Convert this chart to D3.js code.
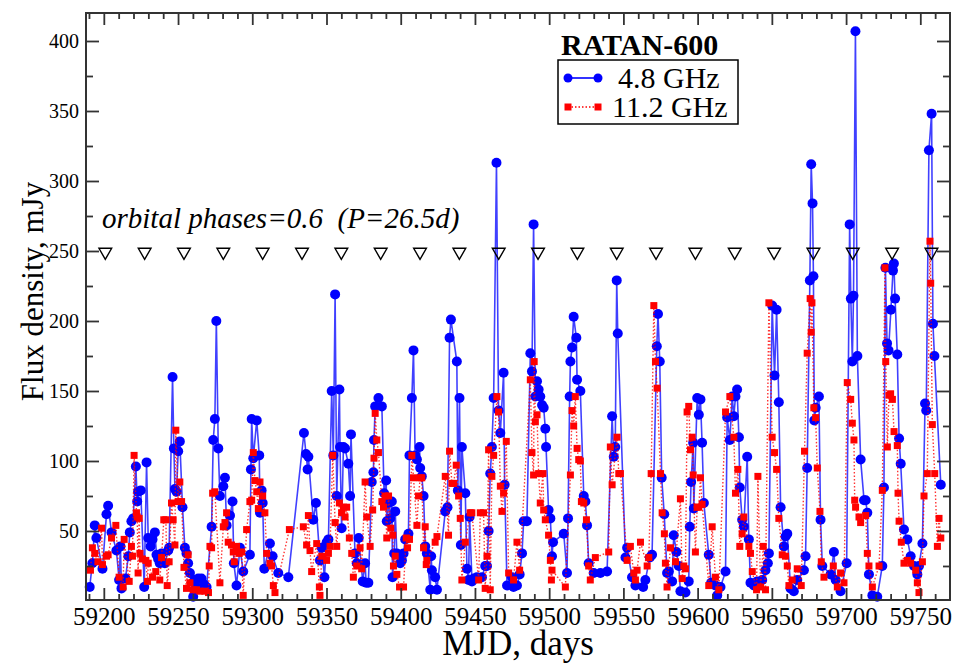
<!DOCTYPE html>
<html>
<head>
<meta charset="utf-8">
<script src="https://cdn.jsdelivr.net/npm/d3@7"></script>
<style>
body { margin: 0; background: #fff; }
svg text { font-family: "Liberation Serif", "Times New Roman", serif; fill: #000; }
</style>
</head>
<body>
<svg id="chart" width="961" height="663"></svg>
<script>
// 4.8 GHz flux, [MJD, mJy]
var band48 = [
  [59190.5,10],[59192.3,27],[59193.9,54],[59195.0,45],[59199.1,23],[59201.8,62],[59202.9,68],[59205.2,49],
  [59208.5,36],[59210.3,15],[59211.2,39],[59211.9,9],[59214.6,16],[59216.5,32],[59217.5,49],[59218.6,57],
  [59219.8,59],[59221.6,96],[59222.5,71],[59223.1,78],[59224.9,79],[59227.2,10],[59228.8,99],[59229.9,45],
  [59231.5,39],[59232.8,44],[59234.4,49],[59235.5,33],[59236.6,30],[59237.7,27],[59238.9,34],[59241.1,27],
  [59243.4,36],[59244.0,38],[59246.3,160],[59247.2,109],[59247.9,80],[59249.0,78],[59250.1,107],[59251.2,114],
  [59253.0,67],[59254.6,38],[59255.7,34],[59256.8,27],[59258.0,20],[59260.2,3],[59261.3,15],[59262.4,10],
  [59263.6,16],[59265.8,16],[59267.5,12],[59269.2,10],[59272.6,53],[59273.7,115],[59274.8,130],[59275.8,200],
  [59277.1,109],[59278.2,75],[59280.5,82],[59281.6,88],[59282.7,54],[59285.0,61],[59286.7,71],[59287.6,27],
  [59289.4,11],[59291.7,38],[59293.9,21],[59298.4,33],[59299.1,94],[59299.6,130],[59300.7,102],[59303.0,129],
  [59304.7,104],[59305.2,63],[59306.3,79],[59307.0,70],[59308.1,23],[59311.9,41],[59313.7,32],[59317.5,20],
  [59324.3,17],[59334.8,120],[59336.2,105],[59337.3,94],[59337.8,103],[59341.1,58],[59342.9,70],[59345.6,29],
  [59346.8,38],[59348.6,17],[59350.1,42],[59351.3,44],[59353.5,150],[59354.6,104],[59355.8,219],[59356.9,75],
  [59358.7,151],[59359.1,110],[59360.2,52],[59361.4,110],[59362.5,109],[59364.7,98],[59365.9,75],[59366.5,119],
  [59369.2,34],[59370.4,27],[59371.7,45],[59374.4,14],[59376.0,27],[59376.7,13],[59378.2,13],[59380.5,85],
  [59381.6,92],[59382.0,115],[59382.8,139],[59385.0,145],[59387.3,139],[59388.8,77],[59390.2,86],[59390.6,57],
  [59391.8,70],[59392.9,59],[59394.0,71],[59394.5,17],[59395.6,34],[59396.3,64],[59397.4,34],[59399.6,27],
  [59400.8,29],[59401.9,34],[59403.0,44],[59405.2,48],[59405.9,104],[59407.5,145],[59408.6,179],[59409.7,104],
  [59410.9,101],[59412.7,110],[59413.1,95],[59414.2,89],[59415.4,75],[59416.5,39],[59417.6,34],[59419.9,8],
  [59420.5,32],[59421.0,22],[59423.2,17],[59424.4,8],[59430.0,64],[59431.5,67],[59432.9,188],[59433.8,201],
  [59437.8,171],[59438.5,79],[59439.6,145],[59440.5,40],[59441.2,110],[59443.5,77],[59444.6,23],[59445.7,15],
  [59446.4,60],[59448.0,14],[59449.1,16],[59451.3,17],[59454.7,17],[59456.9,25],[59458.1,25],[59459.2,50],
  [59460.3,91],[59461.4,110],[59462.6,145],[59464.5,313],[59465.9,136],[59467.1,120],[59469.3,163],[59470.0,83],
  [59471.6,11],[59474.9,17],[59476.0,10],[59478.3,11],[59480.1,19],[59481.7,34],[59482.8,57],[59485.0,57],
  [59487.3,177],[59488.4,164],[59489.5,269],[59490.7,146],[59491.8,157],[59492.9,151],[59494.0,146],[59495.2,140],
  [59496.3,138],[59497.4,123],[59497.9,110],[59499.6,65],[59500.8,59],[59501.9,32],[59502.6,42],[59509.8,48],
  [59512.0,20],[59512.7,59],[59513.8,146],[59514.3,171],[59515.4,181],[59516.5,203],[59518.3,188],[59518.8,158],
  [59521.0,150],[59523.3,75],[59524.4,71],[59525.5,54],[59526.6,27],[59530.0,20],[59534.5,20],[59539.0,21],
  [59542.4,132],[59543.5,103],[59544.5,110],[59545.5,229],[59546.2,191],[59551.4,31],[59552.5,38],[59555.8,17],
  [59558.1,11],[59563.3,10],[59564.8,15],[59567.8,31],[59569.3,33],[59572.5,182],[59573.3,205],[59574.5,171],
  [59575.8,88],[59577.5,62],[59579.4,20],[59580.6,21],[59582.8,14],[59583.9,47],[59585.7,35],[59587.3,25],
  [59588.4,7],[59591.8,6],[59594.0,14],[59594.7,53],[59595.6,85],[59597.0,113],[59597.4,66],[59599.7,145],
  [59600.8,133],[59601.9,144],[59603.0,113],[59604.2,70],[59607.5,33],[59609.1,13],[59612.0,11],[59613.2,4],
  [59615.4,10],[59618.8,21],[59619.9,131],[59621.7,115],[59623.3,146],[59624.4,132],[59625.5,146],[59626.6,151],
  [59627.8,117],[59628.4,81],[59630.0,58],[59631.1,53],[59633.4,103],[59634.5,44],[59635.6,13],[59637.9,11],
  [59640.1,14],[59643.5,15],[59645.7,22],[59647.3,27],[59648.0,34],[59650.2,211],[59651.8,161],[59653.2,208],
  [59654.7,142],[59655.9,67],[59658.1,39],[59659.2,46],[59660.4,48],[59662.6,9],[59664.8,7],[59667.1,15],
  [59671.6,22],[59672.7,32],[59673.8,95],[59675.6,229],[59676.5,312],[59677.4,284],[59678.0,232],[59678.6,129],
  [59679.5,138],[59681.7,146],[59682.8,58],[59684.0,25],[59689.6,19],[59691.8,35],[59693.0,15],[59696.3,7],
  [59700.4,27],[59702.4,269],[59703.2,216],[59704.2,171],[59705.0,218],[59706.3,407],[59707.6,175],[59709.8,101],
  [59712.1,72],[59713.2,72],[59714.3,63],[59715.4,19],[59717.7,4],[59721.0,3],[59724.4,25],[59725.5,81],
  [59726.5,238],[59727.6,184],[59728.6,179],[59730.2,208],[59731.6,236],[59732.2,241],[59733.0,216],[59734.5,176],
  [59735.7,116],[59736.8,98],[59739.0,51],[59741.3,44],[59743.5,32],[59745.8,25],[59748.0,19],[59749.1,25],
  [59751.4,41],[59753.2,141],[59754.0,136],[59755.8,322],[59757.6,348],[59758.5,198],[59759.5,175],[59763.8,83]
];

// 11.2 GHz flux, [MJD, mJy]
var band112 = [
  [59191.0,22],[59192.3,38],[59193.9,34],[59196.0,28],[59198.5,52],[59199.1,26],[59201.8,32],[59202.9,33],
  [59205.2,45],[59208.1,54],[59210.3,17],[59213.0,10],[59213.7,44],[59217.1,14],[59218.6,39],[59219.3,32],
  [59220.4,104],[59222.0,63],[59222.5,60],[59223.1,20],[59223.8,59],[59224.3,34],[59226.0,30],[59228.3,29],
  [59229.4,14],[59229.9,27],[59232.8,17],[59235.0,21],[59237.7,15],[59238.9,31],[59240.4,58],[59241.8,58],
  [59242.7,11],[59244.0,28],[59245.6,70],[59246.7,58],[59247.9,40],[59248.5,122],[59250.1,71],[59251.2,85],
  [59252.4,71],[59254.0,24],[59255.7,9],[59256.8,33],[59258.0,13],[59260.2,8],[59262.5,8],[59264.7,7],
  [59268.1,7],[59270.5,6],[59271.0,25],[59271.5,39],[59272.6,38],[59273.3,77],[59274.8,78],[59278.2,13],
  [59280.5,53],[59281.6,56],[59282.7,63],[59283.8,42],[59286.0,40],[59287.2,35],[59287.9,28],[59289.4,39],
  [59291.2,34],[59292.8,35],[59293.9,4],[59296.2,51],[59298.4,71],[59299.6,72],[59300.7,106],[59301.8,86],
  [59303.0,78],[59304.1,66],[59305.2,85],[59307.0,75],[59308.5,63],[59309.7,34],[59311.9,27],[59313.0,25],
  [59314.2,11],[59315.3,6],[59325.0,51],[59334.4,53],[59336.6,40],[59337.8,61],[59338.9,36],[59340.0,21],
  [59343.4,41],[59345.2,10],[59345.6,4],[59346.8,32],[59350.1,29],[59351.3,34],[59352.4,39],[59354.2,104],
  [59355.8,56],[59356.9,39],[59358.7,70],[59360.2,63],[59361.4,67],[59362.5,60],[59363.6,67],[59365.4,45],
  [59367.0,34],[59368.1,17],[59370.4,25],[59372.6,38],[59373.7,23],[59376.0,85],[59377.1,60],[59379.4,39],
  [59381.1,65],[59382.0,102],[59382.8,134],[59383.9,115],[59385.0,106],[59387.3,71],[59388.4,67],[59389.5,75],
  [59390.6,45],[59391.8,75],[59393.3,52],[59394.7,47],[59395.1,25],[59396.3,32],[59397.4,19],[59399.2,10],
  [59401.9,10],[59403.7,45],[59404.6,38],[59405.9,44],[59407.5,104],[59408.6,88],[59410.9,54],[59412.0,75],
  [59413.1,88],[59414.2,88],[59415.4,38],[59416.5,53],[59417.2,26],[59417.6,29],[59423.2,42],[59424.4,46],
  [59430.0,89],[59432.2,47],[59432.9,107],[59434.5,84],[59435.6,84],[59437.4,97],[59439.0,75],[59440.1,59],
  [59441.2,15],[59443.5,42],[59446.8,63],[59447.9,63],[59452.5,15],[59453.6,63],[59455.8,63],[59456.9,9],
  [59458.1,32],[59459.2,108],[59460.3,8],[59461.4,89],[59462.6,104],[59464.8,146],[59465.9,135],[59467.1,82],
  [59468.2,64],[59469.3,77],[59471.1,114],[59472.7,20],[59476.0,15],[59478.3,42],[59480.1,22],[59487.3,158],
  [59488.4,106],[59489.5,90],[59489.9,171],[59490.7,128],[59491.8,133],[59492.9,91],[59494.0,70],[59495.8,91],
  [59496.3,65],[59497.4,58],[59499.6,47],[59500.8,29],[59501.5,15],[59501.9,22],[59510.9,10],[59514.3,90],
  [59515.4,136],[59516.5,125],[59517.6,146],[59518.8,109],[59519.9,101],[59521.0,100],[59521.7,71],[59523.3,70],
  [59525.1,58],[59526.6,25],[59527.7,15],[59531.1,31],[59540.1,35],[59541.2,110],[59542.4,83],[59545.7,117],
  [59546.9,91],[59548.0,91],[59552.5,29],[59554.7,39],[59557.0,20],[59558.1,15],[59559.2,22],[59561.5,42],
  [59566.0,25],[59567.1,31],[59568.7,91],[59570.5,211],[59571.6,171],[59572.7,152],[59575.0,91],[59576.1,63],
  [59577.6,48],[59578.3,27],[59579.4,10],[59581.7,38],[59585.1,28],[59588.4,73],[59589.6,16],[59590.7,25],
  [59591.8,23],[59592.9,135],[59594.0,139],[59595.2,108],[59596.3,117],[59597.0,90],[59598.5,35],[59599.7,67],
  [59600.8,67],[59601.9,88],[59603.0,69],[59607.5,11],[59609.8,53],[59612.0,17],[59614.3,8],[59618.8,135],
  [59621.7,146],[59624.4,117],[59625.5,77],[59627.1,94],[59628.4,39],[59630.0,48],[59631.1,60],[59634.5,39],
  [59635.6,34],[59636.8,21],[59639.7,8],[59640.6,89],[59642.4,10],[59644.2,39],[59645.7,8],[59648.0,213],
  [59650.2,117],[59651.8,106],[59653.2,94],[59654.7,59],[59657.0,33],[59659.2,32],[59660.4,25],[59661.5,11],
  [59663.7,15],[59667.1,23],[59669.8,11],[59672.0,107],[59673.8,177],[59675.8,216],[59676.5,192],[59677.0,213],
  [59678.3,138],[59679.5,131],[59680.6,95],[59682.4,64],[59683.3,28],[59685.1,17],[59691.4,25],[59694.1,10],
  [59696.3,20],[59698.6,13],[59700.8,156],[59703.1,144],[59704.2,127],[59705.3,115],[59705.8,72],[59706.4,67],
  [59708.7,60],[59709.8,56],[59713.2,61],[59714.3,34],[59715.4,25],[59717.7,10],[59722.2,25],[59724.4,79],
  [59726.2,238],[59726.7,171],[59727.8,110],[59728.9,147],[59730.0,148],[59731.2,144],[59732.3,121],[59734.5,111],
  [59735.0,77],[59735.7,57],[59737.2,42],[59739.0,27],[59741.3,29],[59743.5,27],[59746.9,22],[59748.0,13],
  [59749.1,6],[59751.4,28],[59752.5,75],[59754.7,91],[59756.5,257],[59757.0,227],[59758.1,126],[59759.7,91],
  [59761.5,39],[59762.6,59],[59763.8,45]
];

// orbital phase 0.6 epochs (P = 26.5 d), drawn at 250 mJy
var phaseMJD = [59201.0,59227.5,59254.0,59280.5,59307.0,59333.5,59360.0,59386.5,59413.0,59439.5,59466.0,
                59492.5,59519.0,59545.5,59572.0,59598.5,59625.0,59651.5,59678.0,59704.5,59731.0,59757.5];
var phaseLevel = 250;

var xMajor = d3.range(59200, 59751, 50);
var xMinor = d3.range(59190, 59770, 10).filter(function(v){ return v % 50 != 0; });
var yMajor = d3.range(50, 401, 50);
var yMinor = d3.range(25, 420, 50);

var svg = d3.select("#chart");
var pL = 86, pR = 950, pT = 13, pB = 600;

var x = d3.scaleLinear().domain([59188, 59770]).range([pL, pR]);
var y = d3.scaleLinear().domain([0.7, 420]).range([pB, pT]);

var blue = "#0000ff", red = "#ff0000", frame = "#333";

// ---- data ----
var lineGen = d3.line()
    .x(function(d){ return x(d[0]); })
    .y(function(d){ return y(d[1]); });

var g48 = svg.append("g").attr("id", "b48");
g48.append("path")
    .datum(band48)
    .attr("d", lineGen)
    .attr("fill", "none")
    .attr("stroke", blue)
    .attr("stroke-opacity", 0.75)
    .attr("stroke-width", 1.6);
g48.selectAll("circle").data(band48).enter()
    .append("circle")
    .attr("cx", function(d){ return x(d[0]); })
    .attr("cy", function(d){ return y(d[1]); })
    .attr("r", 5)
    .attr("fill", blue);

var g112 = svg.append("g").attr("id", "b112");
g112.append("path")
    .datum(band112)
    .attr("d", lineGen)
    .attr("fill", "none")
    .attr("stroke", red)
    .attr("stroke-opacity", 0.8)
    .attr("stroke-width", 1.4)
    .attr("stroke-dasharray", "1.5,2");
g112.selectAll("rect").data(band112).enter()
    .append("rect")
    .attr("x", function(d){ return x(d[0]) - 3.5; })
    .attr("y", function(d){ return y(d[1]) - 3.5; })
    .attr("width", 7)
    .attr("height", 7)
    .attr("fill", red);

// phase markers
var tri = d3.symbol().type(d3.symbolTriangle).size(70);
svg.append("g").selectAll("path").data(phaseMJD).enter()
    .append("path")
    .attr("d", tri)
    .attr("transform", function(d){ return "translate(" + x(d) + "," + (y(phaseLevel) + 1) + ") rotate(180)"; })
    .attr("fill", "none")
    .attr("stroke", "#000")
    .attr("stroke-width", 1.4);

svg.append("text")
    .attr("x", 102)
    .attr("y", 228)
    .attr("font-size", 29)
    .attr("font-style", "italic")
    .style("white-space", "pre")
    .text("orbital phases=0.6  (P=26.5d)");

// ---- axes (ticks pointing inward) ----
function styleAxis(sel) {
  sel.select(".domain").remove();
  sel.selectAll(".tick line").attr("stroke", frame).attr("stroke-width", 1.8);
}

svg.append("g").attr("transform", "translate(0," + pB + ")")
    .call(d3.axisBottom(x).tickValues(xMajor).tickSize(-12).tickPadding(7).tickFormat(d3.format("d")))
    .call(styleAxis)
    .selectAll("text").attr("font-size", 25).attr("font-family", "Liberation Serif").attr("fill", "#000");
svg.append("g").attr("transform", "translate(0," + pB + ")")
    .call(d3.axisBottom(x).tickValues(xMinor).tickSize(-6).tickFormat(""))
    .call(styleAxis);
svg.append("g").attr("transform", "translate(0," + pT + ")")
    .call(d3.axisTop(x).tickValues(xMajor).tickSize(-12).tickFormat(""))
    .call(styleAxis);
svg.append("g").attr("transform", "translate(0," + pT + ")")
    .call(d3.axisTop(x).tickValues(xMinor).tickSize(-6).tickFormat(""))
    .call(styleAxis);

svg.append("g").attr("transform", "translate(" + pL + ",0)")
    .call(d3.axisLeft(y).tickValues(yMajor).tickSize(-13).tickPadding(7))
    .call(styleAxis)
    .selectAll("text").attr("font-size", 20).attr("font-family", "Liberation Serif").attr("fill", "#000");
svg.append("g").attr("transform", "translate(" + pL + ",0)")
    .call(d3.axisLeft(y).tickValues(yMinor).tickSize(-7).tickFormat(""))
    .call(styleAxis);
svg.append("g").attr("transform", "translate(" + pR + ",0)")
    .call(d3.axisRight(y).tickValues(yMajor).tickSize(-13).tickFormat(""))
    .call(styleAxis);
svg.append("g").attr("transform", "translate(" + pR + ",0)")
    .call(d3.axisRight(y).tickValues(yMinor).tickSize(-7).tickFormat(""))
    .call(styleAxis);

svg.append("rect")
    .attr("x", pL).attr("y", pT)
    .attr("width", pR - pL).attr("height", pB - pT)
    .attr("fill", "none").attr("stroke", frame).attr("stroke-width", 2);

// axis titles
svg.append("text")
    .attr("x", (pL + pR) / 2)
    .attr("y", 655)
    .attr("text-anchor", "middle")
    .attr("font-size", 35)
    .text("MJD, days");
svg.append("text")
    .attr("transform", "translate(43," + ((pT + pB) / 2 - 15) + ") rotate(-90)")
    .attr("text-anchor", "middle")
    .attr("font-size", 31)
    .text("Flux density, mJy");

// ---- legend ----
var lg = svg.append("g");
lg.append("text")
    .attr("x", 561).attr("y", 55)
    .attr("font-size", 30).attr("font-weight", "bold")
    .text("RATAN-600");
lg.append("rect")
    .attr("x", 558).attr("y", 60).attr("width", 180).attr("height", 64)
    .attr("fill", "#fff").attr("stroke", "#000").attr("stroke-width", 1.5);
lg.append("line")
    .attr("x1", 568).attr("x2", 598).attr("y1", 78).attr("y2", 78)
    .attr("stroke", blue).attr("stroke-width", 1.6);
lg.selectAll("circle.lg").data([568, 598]).enter()
    .append("circle").attr("class", "lg")
    .attr("cx", function(d){ return d; }).attr("cy", 78).attr("r", 4.5)
    .attr("fill", blue);
lg.append("text").attr("x", 618).attr("y", 88).attr("font-size", 30).text("4.8 GHz");
lg.append("line")
    .attr("x1", 568).attr("x2", 598).attr("y1", 107).attr("y2", 107)
    .attr("stroke", red).attr("stroke-width", 1.4).attr("stroke-dasharray", "1.5,2");
lg.selectAll("rect.lg").data([568, 598]).enter()
    .append("rect").attr("class", "lg")
    .attr("x", function(d){ return d - 3.5; }).attr("y", 103.5)
    .attr("width", 7).attr("height", 7)
    .attr("fill", red);
lg.append("text").attr("x", 612).attr("y", 117).attr("font-size", 30).text("11.2 GHz");
</script>
</body>
</html>
